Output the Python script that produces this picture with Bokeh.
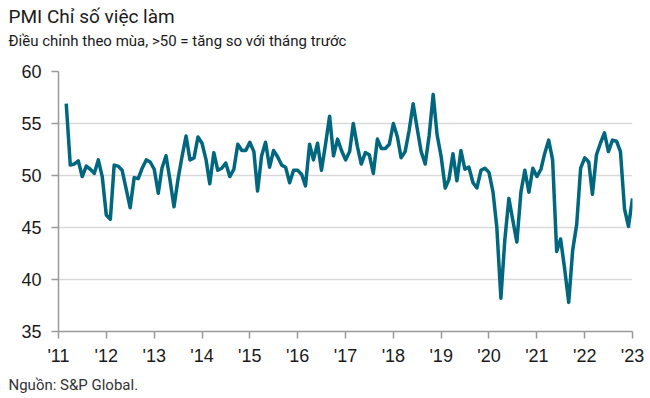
import pandas as pd
from bokeh.plotting import figure
from bokeh.models import FixedTicker, Title
from bokeh.embed import file_html
from bokeh.resources import INLINE

title_text = "PMI Chỉ số việc làm"
subtitle_text = "Điều chỉnh theo mùa, >50 = tăng so với tháng trước"
source_text = "Nguồn: S&P Global."

start_month = "2011-03-01"
values = [
    56.9, 51.0, 51.1, 51.4, 49.9, 50.9, 50.6, 50.2, 51.5, 49.9,   # Mar11-Dec11
    46.2, 45.8, 51.0, 50.9, 50.5, 48.7, 46.9, 49.8, 49.7, 50.7, 51.5, 51.3,  # 2012
    50.6, 48.3, 50.7, 51.9, 49.6, 47.0, 49.6, 51.8, 53.8, 51.5, 51.7, 53.7,  # 2013
    53.1, 51.5, 49.2, 52.2, 50.5, 50.7, 51.2, 49.9, 50.6, 53.0, 52.4, 52.4,  # 2014
    53.2, 52.3, 48.5, 51.9, 53.2, 50.8, 52.4, 51.8, 51.0, 50.8, 49.3, 50.5,  # 2015
    50.5, 50.1, 49.0, 53.0, 51.5, 53.1, 50.5, 53.0, 55.7, 51.9, 53.5, 52.4,  # 2016
    51.5, 52.3, 55.0, 52.8, 51.1, 52.2, 52.0, 50.2, 53.5, 52.6, 52.6, 53.0,  # 2017
    55.0, 53.7, 51.7, 52.3, 54.3, 56.9, 54.6, 52.3, 51.1, 53.8, 57.8, 53.9,  # 2018
    51.8, 48.8, 49.6, 52.1, 49.5, 52.4, 50.6, 50.8, 49.3, 48.8, 50.5, 50.7,  # 2019
    50.3, 48.4, 45.0, 38.2, 43.8, 47.8, 45.7, 43.6, 48.4, 50.5, 48.4, 50.7,  # 2020
    49.9, 50.6, 52.1, 53.4, 51.5, 42.7, 43.9, 41.0, 37.8, 42.8, 45.3, 50.7,  # 2021
    51.7, 51.3, 48.2, 52.0, 53.1, 54.1, 52.3, 53.4, 53.3, 52.3, 46.8, 45.1,  # 2022
    47.8,  # Jan 2023
]
dates = pd.date_range(start_month, periods=len(values), freq="MS")

tick_years = list(range(2011, 2024))
tick_labels = ["'11", "'12", "'13", "'14", "'15", "'16", "'17", "'18", "'19", "'20", "'21", "'22", "'23"]
y_ticks = [35, 40, 45, 50, 55, 60]

tick_ms = [pd.Timestamp(f"{y}-01-01").value / 1e6 for y in tick_years]

p = figure(width=650, height=398, x_axis_type="datetime",
           x_range=(tick_ms[0], tick_ms[-1]), y_range=(35, 60),
           output_backend="svg", toolbar_location=None, title=None,
           min_border_left=58, min_border_right=18, min_border_top=71, min_border_bottom=66)

p.line(dates, values, line_color="#00677f", line_width=3.5, line_join="round")

p.outline_line_color = None
p.background_fill_color = "white"
p.border_fill_color = "white"

p.xgrid.grid_line_color = None
p.ygrid.grid_line_color = "#d9d9d9"
p.ygrid.grid_line_width = 1.5
p.ygrid.ticker = FixedTicker(ticks=y_ticks)

p.xaxis.ticker = FixedTicker(ticks=tick_ms)
p.xaxis.major_label_overrides = {t: lab for t, lab in zip(tick_ms, tick_labels)}
p.yaxis.ticker = FixedTicker(ticks=y_ticks)

for ax in (p.xaxis[0], p.yaxis[0]):
    ax.axis_line_color = "#9a9a9a"
    ax.axis_line_width = 1.5
    ax.major_tick_line_color = "#9a9a9a"
    ax.major_tick_line_width = 1.5
    ax.major_tick_out = 7
    ax.major_tick_in = 0
    ax.minor_tick_line_color = None
    ax.major_label_text_font = "Liberation Sans"
    ax.major_label_text_font_size = "18px"
    ax.major_label_text_color = "#1a1a1a"
p.yaxis.major_label_standoff = 10
p.xaxis.major_label_standoff = 7

src = Title(text=source_text, align="left", offset=-50, text_font="Roboto",
            text_font_size="15px", text_font_style="normal", text_color="#333333")
p.add_layout(src, "below")

# spacing between the subtitle and the plot area
spacer = Title(text=" ", align="left", text_font="Roboto", text_font_size="10px",
               standoff=6.6)
p.add_layout(spacer, "above")
sub = Title(text=subtitle_text, align="left", offset=-50, text_font="Roboto",
            text_font_size="15px", text_font_style="normal", text_color="#1a1a1a",
            vertical_align="top", standoff=0)
p.add_layout(sub, "above")
main = Title(text=title_text, align="left", offset=-50, text_font="Roboto",
             text_font_size="19px", text_font_style="normal", text_color="#1a1a1a",
             vertical_align="bottom", standoff=6.4)
p.add_layout(main, "above")

open("out.html", "w").write(file_html(p, INLINE))
